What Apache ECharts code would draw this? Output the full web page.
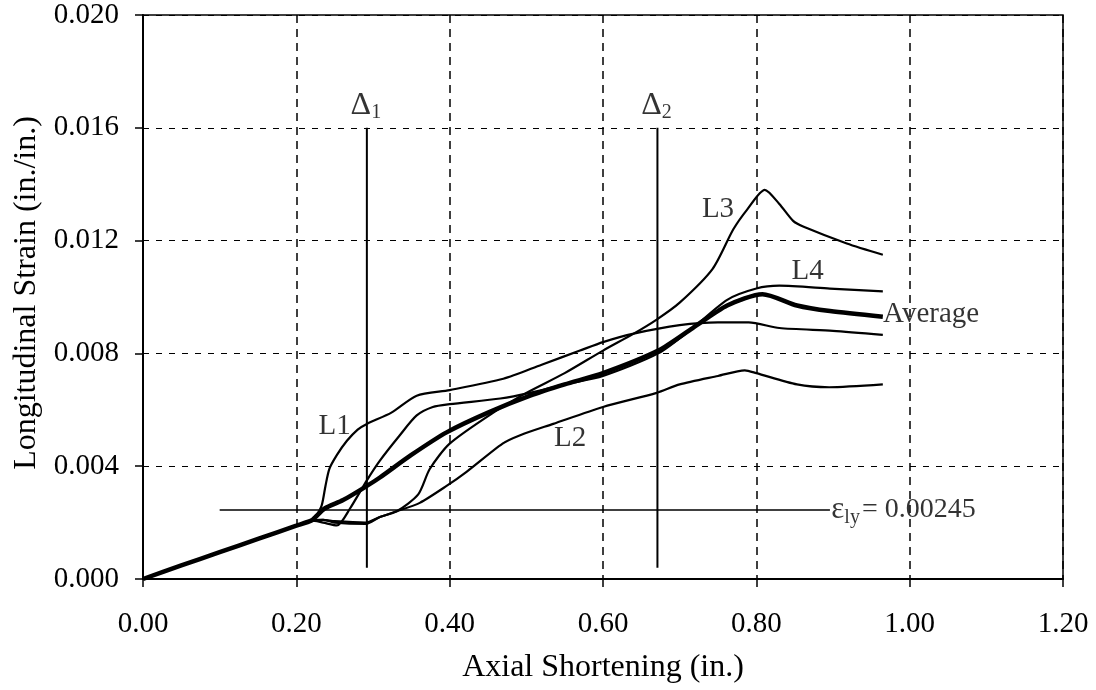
<!DOCTYPE html>
<html>
<head>
<meta charset="utf-8">
<script src="https://cdn.jsdelivr.net/npm/echarts@6/dist/echarts.min.js"></script>
<style>
  html, body { margin: 0; padding: 0; background: #fff; }
  #strain-chart { width: 1096px; height: 690px; }
</style>
</head>
<body>
<div id="strain-chart"></div>
<script>
// gauge readings, [axial shortening (in.), strain (in./in.)]
const common = [[0, 0], [0.05, 0.00048], [0.10, 0.00095], [0.15, 0.00142], [0.20, 0.00189], [0.22, 0.00208]]

const l1 = common.concat([[0.225, 0.0022], [0.233, 0.0026], [0.238, 0.0033], [0.243, 0.0039], [0.253, 0.0044],
  [0.266, 0.0049], [0.28, 0.0053], [0.292, 0.0055], [0.324, 0.0059], [0.357, 0.0065], [0.40, 0.0067],
  [0.47, 0.0071], [0.52, 0.0076], [0.57, 0.0081], [0.60, 0.0084], [0.64, 0.0087], [0.70, 0.0090],
  [0.75, 0.0091], [0.79, 0.0091], [0.83, 0.0089], [0.90, 0.0088], [0.965, 0.00866]])

const l2 = common.concat([[0.235, 0.0021], [0.25, 0.0020], [0.29, 0.00195], [0.309, 0.0022], [0.331, 0.0024],
  [0.361, 0.0027], [0.396, 0.0033], [0.422, 0.0038], [0.469, 0.0048], [0.492, 0.0051], [0.535, 0.0055],
  [0.60, 0.0061], [0.67, 0.0066], [0.70, 0.0069], [0.75, 0.0072], [0.785, 0.0074], [0.80, 0.0073],
  [0.853, 0.0069], [0.895, 0.0068], [0.965, 0.0069]])

const l3 = common.concat([[0.235, 0.0021], [0.25, 0.00205], [0.29, 0.0020], [0.309, 0.0022], [0.331, 0.0024],
  [0.359, 0.0030], [0.374, 0.0039], [0.40, 0.0048], [0.457, 0.0059], [0.50, 0.0066], [0.55, 0.0073],
  [0.60, 0.0081], [0.64, 0.0087], [0.67, 0.0092], [0.70, 0.0098], [0.743, 0.0110], [0.77, 0.0124],
  [0.788, 0.0131], [0.811, 0.0138], [0.83, 0.0133], [0.848, 0.0127], [0.861, 0.0125], [0.918, 0.0119],
  [0.965, 0.0115]])

const l4 = common.concat([[0.235, 0.0020], [0.253, 0.0019], [0.27, 0.0025], [0.292, 0.0035], [0.309, 0.0042],
  [0.335, 0.0051], [0.357, 0.0058], [0.378, 0.0061], [0.40, 0.0062], [0.466, 0.0064], [0.505, 0.0066],
  [0.55, 0.0069], [0.60, 0.0072], [0.672, 0.0080], [0.717, 0.0089], [0.762, 0.0099], [0.80, 0.0103],
  [0.83, 0.0104], [0.896, 0.0103], [0.965, 0.0102]])

const average = common.concat([[0.225, 0.0022], [0.237, 0.0025], [0.261, 0.0028], [0.292, 0.0033],
  [0.309, 0.0036], [0.35, 0.0044], [0.396, 0.0052], [0.45, 0.0059], [0.505, 0.0065], [0.55, 0.0069],
  [0.60, 0.0073], [0.672, 0.0081], [0.717, 0.0089], [0.762, 0.0097], [0.808, 0.0101], [0.853, 0.0097],
  [0.896, 0.0095], [0.965, 0.0093]])

// reference lines
const delta1 = [[0.292, 0.0004], [0.292, 0.016]]
const delta2 = [[0.671, 0.0004], [0.671, 0.016]]
const yieldLine = [[0.10, 0.00245], [0.896, 0.00245]]

// text notes anchored in data coordinates
const notes = [
  { value: [0.250, 0.0054], text: 'L1' },
  { value: [0.557, 0.0050], text: 'L2' },
  { value: [0.750, 0.0131], text: 'L3' },
  { value: [0.867, 0.0109], text: 'L4' },
  { value: [1.028, 0.0094], text: 'Average' },
  { value: [0.292, 0.0168], text: '{d|Δ}{s|1}' },
  { value: [0.671, 0.0168], text: '{d|Δ}{s|2}' },
  { value: [0.992, 0.00245], text: '{e|ε}{s|ly}{n|= 0.00245}' }
]

const FONT = '"Liberation Serif", "DejaVu Serif", serif'

const curve = (name, data, width) => ({
  name,
  type: 'line',
  data,
  smooth: 0.25,
  showSymbol: false,
  silent: true,
  lineStyle: { color: '#000', width },
  z: 3
})

const straight = (name, data, width) => ({
  name,
  type: 'line',
  data,
  showSymbol: false,
  silent: true,
  lineStyle: { color: '#000', width },
  z: 2
})

const chart = echarts.init(document.getElementById('strain-chart'))
chart.setOption({
  animation: false,
  backgroundColor: '#fff',
  textStyle: { fontFamily: FONT, color: '#000' },
  grid: {
    left: 143,
    right: 33,
    top: 15,
    bottom: 111,
    show: true,
    borderColor: '#000',
    borderWidth: 1.5
  },
  xAxis: {
    type: 'value',
    min: 0,
    max: 1.2,
    interval: 0.2,
    name: 'Axial Shortening (in.)',
    nameLocation: 'middle',
    nameGap: 73,
    nameTextStyle: { fontFamily: FONT, fontSize: 32, color: '#000' },
    axisLine: { show: true, lineStyle: { color: '#000', width: 2 } },
    axisTick: { show: true, length: 8, lineStyle: { color: '#000', width: 1.5 } },
    axisLabel: {
      fontFamily: FONT,
      fontSize: 29,
      color: '#000',
      margin: 31,
      formatter: v => v.toFixed(2)
    },
    splitLine: { show: true, lineStyle: { color: '#000', type: [8, 6], width: 1.5 } }
  },
  yAxis: {
    type: 'value',
    min: 0,
    max: 0.020,
    interval: 0.004,
    name: 'Longitudinal Strain (in./in.)',
    nameLocation: 'middle',
    nameGap: 98,
    nameTextStyle: { fontFamily: FONT, fontSize: 32, color: '#000', padding: [0, 0, 0, 8] },
    axisLine: { show: true, lineStyle: { color: '#000', width: 2 } },
    axisTick: { show: true, length: 8, lineStyle: { color: '#000', width: 1.5 } },
    axisLabel: {
      fontFamily: FONT,
      fontSize: 29,
      color: '#000',
      margin: 24,
      formatter: v => v.toFixed(3)
    },
    splitLine: { show: true, lineStyle: { color: '#000', type: [6, 7], width: 1.2 } }
  },
  series: [
    curve('L1', l1, 2.2),
    curve('L2', l2, 2.2),
    curve('L3', l3, 2.2),
    curve('L4', l4, 2.2),
    curve('Average', average, 4.5),
    straight('Delta1', delta1, 2),
    straight('Delta2', delta2, 2),
    straight('Yield', yieldLine, 1.5),
    {
      name: 'notes',
      type: 'scatter',
      symbolSize: 0,
      silent: true,
      z: 5,
      data: notes.map(n => ({ value: n.value, name: n.text })),
      label: {
        show: true,
        position: 'inside',
        color: '#000',
        fontFamily: FONT,
        fontSize: 29,
        formatter: p => p.name,
        rich: {
          d: { fontFamily: FONT, fontSize: 32, color: '#000' },
          e: { fontFamily: FONT, fontSize: 31, color: '#000' },
          s: { fontFamily: FONT, fontSize: 20, color: '#000', verticalAlign: 'bottom', padding: [15, 2, 0, 0] },
          n: { fontFamily: FONT, fontSize: 28, color: '#000' }
        }
      }
    }
  ]
})
</script>
</body>
</html>
